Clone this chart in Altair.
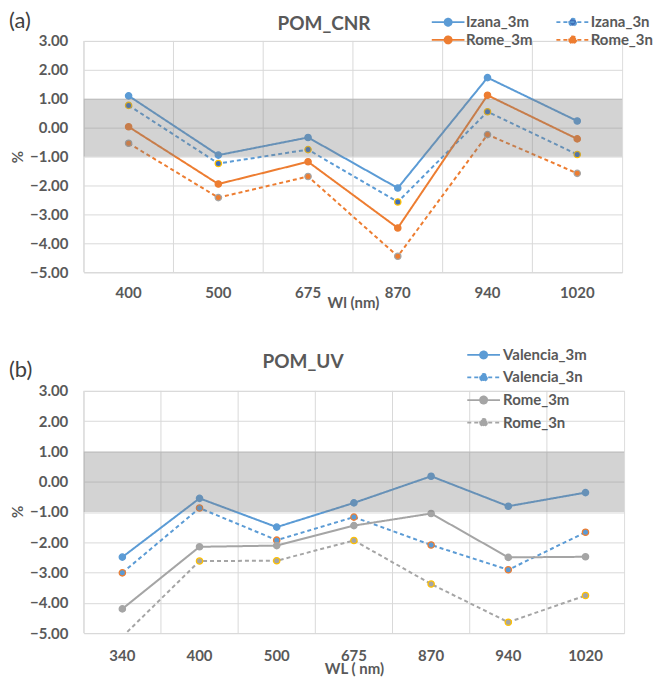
import altair as alt
import pandas as pd

# ---------------- data ----------------
top_wl = ["400", "500", "675", "870", "940", "1020"]
top_names = ["Izana_3m", "Izana_3n", "Rome_3m", "Rome_3n"]
izana_3m = [1.10, -0.95, -0.34, -2.09, 1.73, 0.23]
izana_3n = [0.77, -1.24, -0.76, -2.57, 0.55, -0.93]
rome_3m_a = [0.03, -1.95, -1.18, -3.47, 1.12, -0.39]
rome_3n_a = [-0.54, -2.42, -1.69, -4.45, -0.24, -1.58]

bot_wl = ["340", "400", "500", "675", "870", "940", "1020"]
bot_names = ["Valencia_3m", "Valencia_3n", "Rome_3m", "Rome_3n"]
valencia_3m = [-2.49, -0.55, -1.50, -0.70, 0.18, -0.81, -0.36]
valencia_3n = [-3.01, -0.87, -1.93, -1.17, -2.09, -2.91, -1.67]
rome_3m_b = [-4.20, -2.15, -2.11, -1.45, -1.05, -2.50, -2.48]
rome_3n_b = [-5.12, -2.62, -2.61, -1.94, -3.38, -4.64, -3.76]

band_low = [-1.0]
band_high = [1.0]
y_ticks = [-5, -4, -3, -2, -1, 0, 1, 2, 3]

# ---------------- style ----------------
FONT = "Lato"
TXT = "#595959"
GRID = "#d9d9d9"
BLUE, ORANGE, GRAY, YELLOW, DBLUE = "#5B9BD5", "#ED7D31", "#A5A5A5", "#FFC000", "#3F6FB8"
SOLID, DASH = [1, 0], [4, 3]
SYM = "M-4.1,0H4.1M-0.9,0A0.9,0.9,0,1,0,0.9,0A0.9,0.9,0,1,0,-0.9,0Z"


def long_df(wl, names, series):
    rows = []
    for n, vals in zip(names, series):
        for w, v in zip(wl, vals):
            rows.append({"wl": w, "series": n, "value": v})
    return pd.DataFrame(rows)


def panel(df, wl, dom, styles, w, h, title, tx, ty,
          tag, tag_y, xtitle, xlabpad, xtitley, ytitley, lx, ly, cols, colpad, rowpad, loff):
    line_c = [styles[n][0] for n in dom]
    fill_c = [styles[n][1] for n in dom]
    stroke_c = [styles[n][2] for n in dom]
    dashes = [styles[n][3] for n in dom]
    xscale = alt.Scale(type="band", paddingInner=0, paddingOuter=0)
    xaxis = alt.Axis(labelFont=FONT, labelFontSize=15, labelFontWeight="bold", labelColor=TXT,
                     labelPadding=xlabpad, ticks=False, grid=False, domainColor=GRID,
                     labelAngle=0, titleFont=FONT, titleFontSize=15, titleFontWeight="bold",
                     titleColor=TXT, titleY=xtitley, titleBaseline="middle")
    yscale = alt.Scale(domain=[-5, 3], nice=False, zero=False)
    yaxis = alt.Axis(values=y_ticks, format=".2f", labelFont=FONT, labelFontSize=15,
                     labelFontWeight="bold", labelColor=TXT, labelPadding=16, ticks=False,
                     domain=False, grid=True, gridColor=GRID, titleFont=FONT, titleFontSize=15,
                     titleFontWeight="bold", titleColor=TXT, titleAngle=-90, titleX=-66,
                     titleY=ytitley, titleBaseline="middle")
    X = lambda bp: alt.X("wl:N", sort=wl, scale=xscale, axis=xaxis, title=xtitle, bandPosition=bp)
    Y = alt.Y("value:Q", scale=yscale, axis=yaxis, title="%")

    leg = alt.Legend(orient="none", legendX=lx, legendY=ly, columns=cols,
                     title=None, symbolType=SYM, symbolSize=64, symbolStrokeWidth=1.75,
                     labelFont=FONT, labelFontSize=15, labelFontWeight="bold", labelColor=TXT,
                     labelOffset=loff, columnPadding=colpad, rowPadding=rowpad, padding=0,
                     labelLimit=0)

    cats = pd.DataFrame({"wl": wl})
    vgrid = alt.Chart(cats).mark_rule(color=GRID, strokeWidth=1).encode(x=X(0))

    lines = alt.Chart(df).mark_line(strokeWidth=2, clip=True).encode(
        x=X(0.5), y=Y,
        color=alt.Color("series:N", scale=alt.Scale(domain=dom, range=line_c), legend=leg),
        strokeDash=alt.StrokeDash("series:N", scale=alt.Scale(domain=dom, range=dashes), legend=leg),
    )
    pts = alt.Chart(df).mark_point(filled=True, size=40, strokeWidth=1.3, opacity=1, clip=True).encode(
        x=X(0.5), y=Y,
        fill=alt.Fill("series:N", scale=alt.Scale(domain=dom, range=fill_c), legend=leg),
        stroke=alt.Stroke("series:N", scale=alt.Scale(domain=dom, range=stroke_c), legend=None),
    )
    band_df = pd.DataFrame({"lo": band_low, "hi": band_high})
    band = alt.Chart(band_df).mark_rect(color="#7f7f7f", opacity=0.34).encode(
        y=alt.Y("hi:Q", scale=yscale, axis=yaxis, title="%"), y2="lo:Q")
    tag_df = pd.DataFrame({"t": [tag], "title": [title]})
    tagm = alt.Chart(tag_df).mark_text(align="left", baseline="middle", font=FONT, fontSize=22,
                                       color="#404040").encode(
        text="t:N", x=alt.value(-75), y=alt.value(tag_y))
    titlem = alt.Chart(tag_df).mark_text(align="center", baseline="middle", font=FONT, fontSize=19,
                                         fontWeight="bold", color=TXT).encode(
        text="title:N", x=alt.value(tx), y=alt.value(ty))

    return alt.layer(vgrid, lines, pts, band, tagm, titlem).properties(width=w, height=h)


top_df = long_df(top_wl, top_names, [izana_3m, izana_3n, rome_3m_a, rome_3n_a])
bot_df = long_df(bot_wl, bot_names, [valencia_3m, valencia_3n, rome_3m_b, rome_3n_b])

# name: (line colour, marker fill, marker outline, dash)
top_styles = {"Izana_3m": (BLUE, BLUE, BLUE, SOLID), "Izana_3n": (BLUE, DBLUE, YELLOW, DASH),
              "Rome_3m": (ORANGE, ORANGE, ORANGE, SOLID), "Rome_3n": (ORANGE, ORANGE, GRAY, DASH)}
bot_styles = {"Valencia_3m": (BLUE, BLUE, BLUE, SOLID), "Valencia_3n": (BLUE, BLUE, ORANGE, DASH),
              "Rome_3m": (GRAY, GRAY, GRAY, SOLID), "Rome_3n": (GRAY, GRAY, YELLOW, DASH)}

# legend order (column-major for the two-column legend)
top_legend_order = ["Izana_3m", "Rome_3m", "Izana_3n", "Rome_3n"]

top = panel(top_df, top_wl, top_legend_order, top_styles,
            540, 232, "POM_CNR", 241, -17, "(a)", -20, "Wl (nm)", 13, 30, 116,
            358, -26.5, 2, 19, 2, 10.5)
bot = panel(bot_df, bot_wl, bot_names, bot_styles,
            542, 243, "POM_UV", 220, -29, "(b)", -21, "WL ( nm)", 15, 36, 121,
            393.6, -43.5, 1, 10, 6.6, 12)

chart = alt.vconcat(top, bot, spacing=36).resolve_scale(
    color="independent", fill="independent", stroke="independent", strokeDash="independent",
    x="independent", y="independent"
).properties(padding={"left": 8, "top": 8, "right": 0, "bottom": 0}).configure_view(
    stroke=None).configure(background="white")

chart.save("out.html", embed_options={"renderer": "svg", "actions": False})
